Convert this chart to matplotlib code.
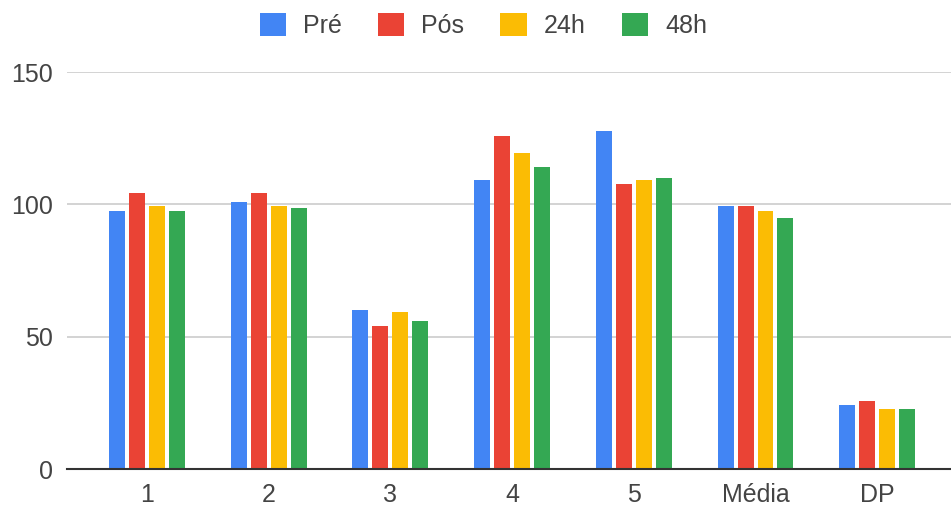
import matplotlib
matplotlib.use('Agg')
import matplotlib.pyplot as plt
import numpy as np

plt.rcParams['font.family'] = ['Liberation Sans', 'DejaVu Sans']

categorias = ['1', '2', '3', '4', '5', 'Média', 'DP']
series = ['Pré', 'Pós', '24h', '48h']
pre = [97.7, 101.0, 60.1, 109.2, 127.7, 99.3, 24.3]
pos = [104.2, 104.2, 54.2, 126.0, 107.7, 99.3, 25.9]
h24 = [99.4, 99.4, 59.2, 119.3, 109.2, 97.6, 22.7]
h48 = [97.5, 98.5, 56.0, 114.2, 110.1, 95.0, 22.7]
cores = ['#4285F4', '#EA4335', '#FBBC04', '#34A853']

fig = plt.figure(figsize=(9.51, 5.13), dpi=100)
ax = fig.add_axes([67 / 951, 1 - 469.3 / 513, 1 - 67 / 951, (469.3 - 72) / 513])

x = np.arange(len(categorias))
passo = 0.164
largura = 0.131
for i, (vals, nome) in enumerate(zip([pre, pos, h24, h48], series)):
    ax.bar(x + (i - 1.5) * passo, vals, width=largura, color=cores[i], label=nome, zorder=3)

ax.set_xlim(-0.657, 6.606)
ax.set_ylim(0, 150)
ax.set_yticks([0, 50, 100, 150])
ax.set_xticks(x)
ax.set_xticklabels(categorias)
ax.tick_params(axis='both', length=0, labelsize=18, labelcolor='#444444')
ax.tick_params(axis='y', pad=10)
ax.tick_params(axis='x', pad=10)
ax.grid(axis='y', color='#d0d0d0', linewidth=1.3, zorder=0)
for s in ['top', 'right', 'left']:
    ax.spines[s].set_visible(False)
ax.spines['bottom'].set_color('#333333')
ax.spines['bottom'].set_linewidth(1.5)
ax.spines['bottom'].set_zorder(4)

leg = fig.legend(loc='center', bbox_to_anchor=(483.5 / 951, 1 - 25.5 / 513), ncol=4,
                 frameon=False, fontsize=18, handlelength=1.05, handleheight=1.05,
                 handletextpad=0.68, columnspacing=1.44)
for t in leg.get_texts():
    t.set_color('#444444')

fig.savefig('out.png', dpi=100)
